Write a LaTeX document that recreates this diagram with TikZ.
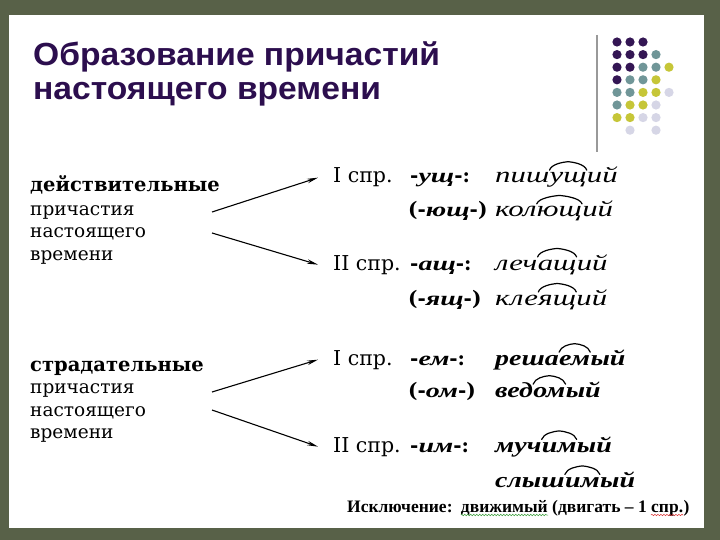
\documentclass[tikz,border=0pt]{standalone}
\usepackage{fontspec}
\setmainfont{DejaVu Serif}
\newfontfamily\titlefont[FakeStretch=1.05]{Liberation Sans}
\newfontfamily\notefont{Liberation Serif}
\newfontfamily\wordfont[FakeStretch=1.4]{Liberation Serif}
\newfontfamily\boldwordfont[FakeStretch=1.3]{Liberation Serif}
\usetikzlibrary{arrows.meta, positioning, decorations.pathmorphing}
\definecolor{bgolive}{RGB}{88, 97, 72}
\definecolor{titlepurple}{RGB}{44, 14, 78}
\definecolor{dotP}{RGB}{52, 22, 84}
\definecolor{dotT}{RGB}{112, 150, 152}
\definecolor{dotY}{RGB}{198, 198, 56}
\definecolor{dotL}{RGB}{214, 214, 230}
\definecolor{spellgreen}{RGB}{60, 160, 60}
\definecolor{spellred}{RGB}{220, 40, 40}
\newcommand\sfxit[1]{{\wordfont\itshape #1}}

\tikzset{
  titletext/.style={anchor=base west, inner sep=0pt, text=titlepurple,
    font=\titlefont\bfseries\fontsize{32}{34}\selectfont},
  bodytext/.style={anchor=base west, inner sep=0pt, font=\fontsize{18.5}{22}\selectfont},
  sprtext/.style={anchor=base west, inner sep=0pt, inner xsep=15pt, font=\fontsize{20.5}{22}\selectfont},
  sfxtext/.style={anchor=base west, inner sep=0pt, font=\fontsize{20}{22}\selectfont\bfseries},
  wordmd/.style={anchor=base west, inner sep=0pt, font=\wordfont\fontsize{22}{24}\selectfont\itshape},
  wordbf/.style={anchor=base west, inner sep=0pt, font=\boldwordfont\fontsize{21.5}{24}\selectfont\bfseries\itshape},
  sfxarc/.style={line width=1.2pt, line cap=round, line join=round},
  arr/.style={line width=1.1pt, -{Stealth[length=11pt, width=4.5pt]}},
  notetext/.style={anchor=base west, inner sep=0pt,
    font=\notefont\bfseries\fontsize{17.5}{20}\selectfont},
  squiggle/.style={line width=0.5pt, decorate,
    decoration={snake, amplitude=0.7pt, segment length=3pt}},
}

\begin{document}
\begin{tikzpicture}[x=1pt, y=-1pt]
  % фон и лист
  \fill[bgolive] (0,0) rectangle (720,540);
  \fill[white] (9,15) rectangle (704,528);
  \useasboundingbox (0,0) rectangle (720,540);

  % заголовок
  \node[titletext] (title1) at (33,66) {Образование причастий};
  \node[titletext] (title2) at ([yshift=-34pt]title1.base west) {настоящего времени};

  % линия и точки справа
  \draw[gray!80, line width=1.2pt] (597,35) -- (597,152);
  \foreach \r/\lst in {0/{0/P,1/P,2/P}, 1/{0/P,1/P,2/P,3/T}, 2/{0/P,1/P,2/T,3/T,4/Y},
                       3/{0/P,1/T,2/T,3/Y}, 4/{0/T,1/T,2/Y,3/Y,4/L}, 5/{0/T,1/Y,2/Y,3/L},
                       6/{0/Y,1/Y,2/L,3/L}, 7/{1/L,3/L}}
    \foreach \c/\k in \lst
      \fill[fill=dot\k] ({617+13*\c}, {42+12.6*\r}) circle (4.6);

  % действительные причастия
  \node[bodytext, font=\fontsize{19.5}{22}\selectfont\bfseries] (act1) at (30,192) {действительные};
  \node[bodytext] (act2) at (30,215) {причастия};
  \node[bodytext] (act3) at (30,237) {настоящего};
  \node[bodytext] (act4) at (30,260) {времени};

  % страдательные причастия
  \node[bodytext, font=\fontsize{19.5}{22}\selectfont\bfseries] (pas1) at (30,371) {страдательные};
  \node[bodytext] (pas2) at (30,393) {причастия};
  \node[bodytext] (pas3) at (30,416) {настоящего};
  \node[bodytext] (pas4) at (30,438) {времени};

  % спряжения и суффиксы
  \node[sprtext] (actI) at (318,183) {I спр.};
  \node[sfxtext] (sfxA) at (410,183) {-\sfxit{ущ}-:};
  \node[sfxtext] (sfxB) at (408,217) {(-\sfxit{ющ}-)};
  \node[sprtext] (actII) at (318,270) {II спр.};
  \node[sfxtext] (sfxC) at (410,270) {-\sfxit{ащ}-:};
  \node[sfxtext] (sfxD) at (408,305) {(-\sfxit{ящ}-)};
  \node[sprtext] (pasI) at (318,365) {I спр.};
  \node[sfxtext] (sfxE) at (410,365) {-\sfxit{ем}-:};
  \node[sfxtext] (sfxF) at (408,397) {(-\sfxit{ом}-)};
  \node[sprtext] (pasII) at (318,452) {II спр.};
  \node[sfxtext] (sfxG) at (410,452) {-\sfxit{им}-:};

  % примеры: основа + суффикс (с дугой) + окончание
  \foreach \n/\y/\stem/\sfx/\fin/\st in {1/183/пиш/ущ/ий/wordmd, 2/217/кол/ющ/ий/wordmd,
      3/270/леч/ащ/ий/wordmd, 4/305/кле/ящ/ий/wordmd, 5/365/реша/ем/ый/wordbf,
      6/397/вед/ом/ый/wordbf, 7/452/муч/им/ый/wordbf, 8/487/слыш/им/ый/wordbf} {
    \node[\st] (w\n a) at (495,\y) {\stem};
    \node[\st] (w\n b) at (w\n a.base east) {\sfx};
    \node[\st] (w\n c) at (w\n b.base east) {\fin};
    \draw[sfxarc] ([yshift=2.5pt]w\n b.north west) .. controls +(2,-6) and +(-6,0.5)
      .. ([yshift=11pt]w\n b.north) .. controls +(6,0.5) and +(-2,-6)
      .. ([yshift=2.5pt]w\n b.north east);
  }

  % стрелки
  \coordinate (actUp) at (212,212);
  \coordinate (actDown) at (212,233);
  \coordinate (pasUp) at (212,392);
  \coordinate (pasDown) at (212,410);
  \draw[arr] (actUp) -- (actI.west);
  \draw[arr] (actDown) -- (actII.west);
  \draw[arr] (pasUp) -- (pasI.west);
  \draw[arr] (pasDown) -- (pasII.west);

  % исключение
  \node[notetext] (exc1) at (347,512) {Исключение:};
  \node[notetext] (exc2) at ([xshift=8pt]exc1.base east) {движимый};
  \node[notetext] (exc3) at ([xshift=4pt]exc2.base east) {(двигать – 1};
  \node[notetext] (exc4) at ([xshift=4pt]exc3.base east) {спр.};
  \node[notetext] (exc5) at (exc4.base east) {)};
  \draw[squiggle, spellgreen] ([yshift=-3pt]exc2.base west) -- ([yshift=-3pt]exc2.base east);
  \draw[squiggle, spellred] ([yshift=-3pt]exc4.base west) -- ([yshift=-3pt]exc4.base east);
\end{tikzpicture}
\end{document}
